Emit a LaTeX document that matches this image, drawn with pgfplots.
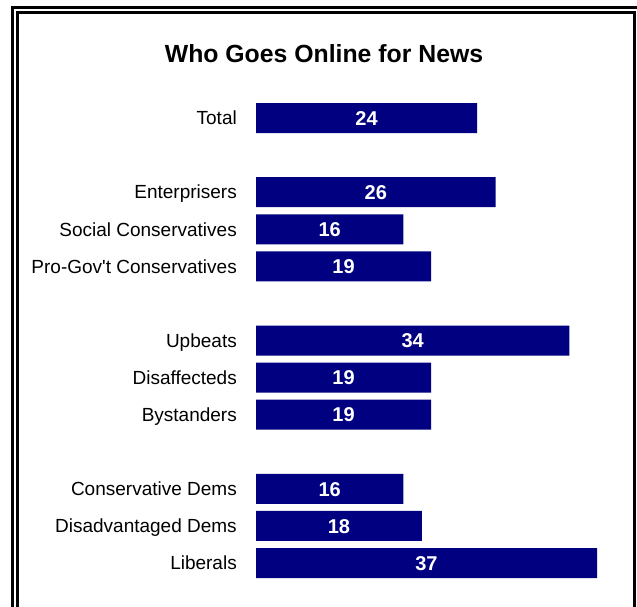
\documentclass[border=0pt]{standalone}
\usepackage{pgfplots}
\usepackage{pgfplotstable}
\pgfplotsset{compat=1.18}
\usepackage{fontspec}
\setmainfont{Liberation Sans}
\definecolor{barnavy}{RGB}{0,0,128}
\pgfplotstableread{
y v
0 24
2 26
3 16
4 19
6 34
7 19
8 19
10 16
11 18
12 37
}\datatable
\begin{document}
\begin{tikzpicture}[x=1pt,y=1pt]
\useasboundingbox (0,0) rectangle (637,606);
\begin{scope}
\clip (0,0) rectangle (637,606);
\fill[white] (0,0) rectangle (637,606);
\draw[line width=3pt] (12.5,-10) -- (12.5,598.5) -- (650,598.5);
\draw[line width=3pt] (17.5,-10) -- (17.5,593.5) -- (634.5,593.5) -- (634.5,-10);
\end{scope}
\node[anchor=base, font=\fontsize{24.8}{24.8}\selectfont\bfseries, inner sep=0pt] at (324,543) {Who Goes Online for News};
\begin{axis}[
  at={(256pt,488pt)}, anchor=north west,
  scale only axis, width=341pt, height=445pt,
  xmin=0, xmax=37, ymin=0, ymax=12, y dir=reverse,
  clip=false,
  /pgf/number format/assume math mode=true,
  axis line style={draw=none},
  major tick length=0pt,
  xtick=\empty,
  ytick={0,2,3,4,6,7,8,10,11,12},
  yticklabels={Total,Enterprisers,Social Conservatives,Pro-Gov\textquotesingle t Conservatives,Upbeats,Disaffecteds,Bystanders,Conservative Dems,Disadvantaged Dems,Liberals},
  yticklabel style={font=\fontsize{19}{19}\selectfont, anchor=base east, inner sep=0pt, xshift=-19pt, yshift=-6.8pt},
]
\addplot[xbar, fill=barnavy, draw=none, bar width=30pt] table[x=v, y=y] {\datatable};
\addplot[draw=none, mark=none, nodes near coords, point meta=explicit,
  nodes near coords style={anchor=base, text=white, inner sep=0pt, yshift=-7.2pt, font=\fontsize{20}{20}\selectfont\bfseries}]
  table[x expr=\thisrow{v}/2, y=y, meta=v] {\datatable};
\end{axis}
\end{tikzpicture}
\end{document}
